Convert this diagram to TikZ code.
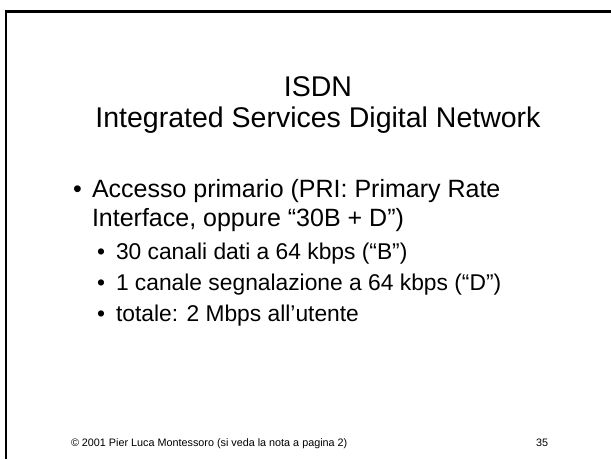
\documentclass[tikz,border=0pt]{standalone}
\usepackage{fontspec}
\setmainfont{Liberation Sans}
\begin{document}
\begin{tikzpicture}[x=1pt,y=-1pt,
  txt/.style={inner sep=0pt, outer sep=0pt, anchor=base west, text=black},
  ttl/.style={inner sep=0pt, outer sep=0pt, anchor=base, text=black,
    font=\fontsize{28.5}{34}\selectfont},
  lvlone/.style={txt, font=\fontsize{25}{30}\selectfont},
  lvltwo/.style={txt, font=\fontsize{22.8}{27}\selectfont},
  foot/.style={txt, font=\fontsize{10.8}{13}\selectfont},
  frame/.style={draw=black, line width=2.5pt}]
\useasboundingbox (0,0) rectangle (611,459);
% slide frame (top and left edges)
\draw[frame] (6.2,459) -- (6.2,11.5) -- (611,11.5);

% title
\node[ttl] (t1) at (318,96) {ISDN};
\node[ttl] (t2) at (318,127) {Integrated Services Digital Network};

% first-level bullet
\node[lvlone] (b1) at (73,197) {•};
\node[lvlone] (l1) at (92,197) {Accesso primario (PRI: Primary Rate};
\node[lvlone] (l2) at (92,226) {Interface, oppure “30B + D”)};

% second-level bullets
\node[lvltwo] (b2) at (97,259) {•};
\node[lvltwo] (s1) at (116,259) {30 canali dati a 64 kbps (“B”)};
\node[lvltwo] (b3) at (97,290) {•};
\node[lvltwo] (s2) at (116,290) {1 canale segnalazione a 64 kbps (“D”)};
\node[lvltwo] (b4) at (97,321) {•};
\node[lvltwo] (s3) at (116,321) {totale: 2 Mbps all’utente};

% footer
\node[foot] (f1) at (71,446) {© 2001 Pier Luca Montessoro (si veda la nota a pagina 2)};
\node[foot] (f2) at (536,446) {35};
\end{tikzpicture}
\end{document}
